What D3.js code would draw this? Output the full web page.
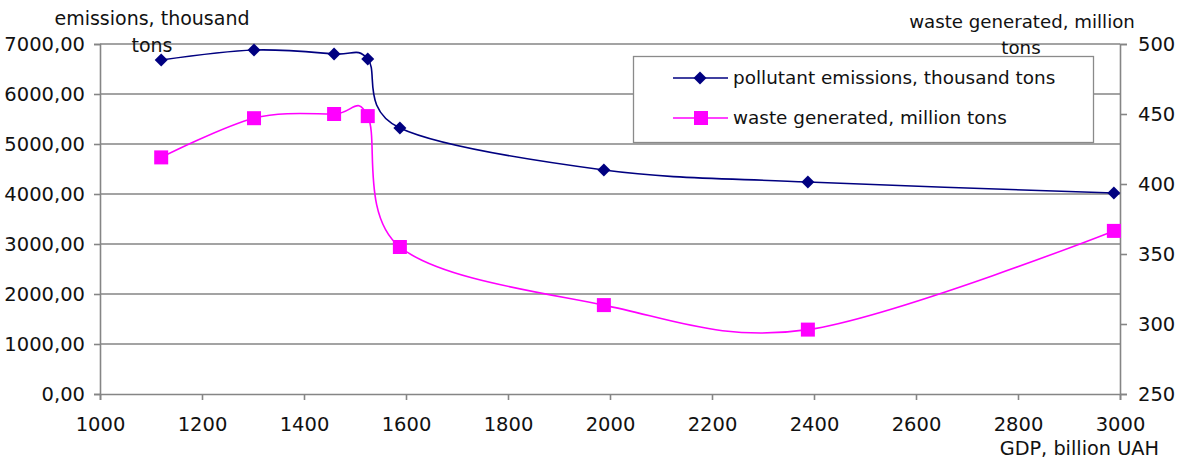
<!DOCTYPE html>
<html><head><meta charset="utf-8">
<script src="https://cdn.jsdelivr.net/npm/d3@7"></script>
<style>body{margin:0;background:#fff}svg{display:block}text{font-family:"DejaVu Sans",sans-serif;fill:#111}</style>
</head><body><svg id="c" width="1183" height="460"></svg>
<script>
const gdp = [1120, 1302, 1459, 1525, 1588, 1988, 2388, 2988];
const emissions = [6680, 6880, 6800, 6700, 5320, 4480, 4240, 4020];
const waste = [419, 447, 450, 448.5, 355, 313.5, 296, 366.5];
const xTicks = [1000,1200,1400,1600,1800,2000,2200,2400,2600,2800,3000];
const yLeftTicks = [0,1000,2000,3000,4000,5000,6000,7000];
const yRightTicks = [250,300,350,400,450,500];
const seriesNames = ["pollutant emissions, thousand tons","waste generated, million tons"];

const svg = d3.select("#c");
const L=100, R=1120, T=44, B=394;
const x = d3.scaleLinear().domain([1000,3000]).range([L,R]);
const yL = d3.scaleLinear().domain([0,7000]).range([B,T]);
const yR = d3.scaleLinear().domain([250,500]).range([B,T]);
const grid="#858585";

// gridlines
svg.append("g").selectAll("line").data(yLeftTicks.filter(d=>d>0)).join("line")
  .attr("x1",L).attr("x2",R).attr("y1",d=>yL(d)).attr("y2",d=>yL(d))
  .attr("stroke",grid).attr("stroke-width",1.3);

const fmt = d=>d3.format(".2f")(d).replace(".",",");
const gl = svg.append("g").attr("transform",`translate(${L},0)`)
  .call(d3.axisLeft(yL).tickValues(yLeftTicks).tickFormat(fmt).tickSize(6).tickPadding(9));
const gr = svg.append("g").attr("transform",`translate(${R},0)`)
  .call(d3.axisRight(yR).tickValues(yRightTicks).tickFormat(d3.format("d")).tickSize(7).tickPadding(11));
const gx = svg.append("g").attr("transform",`translate(0,${B})`)
  .call(d3.axisBottom(x).tickValues(xTicks).tickFormat(d3.format("d")).tickSize(6).tickPadding(17));
[gl,gr,gx].forEach(g=>{
  g.selectAll("path,line").attr("stroke",grid).attr("stroke-width",1.6);
  g.selectAll("text").attr("font-size",19.5).attr("font-family","DejaVu Sans").attr("fill","#111");
});

const line = (ys)=>d3.line().x((d,i)=>x(gdp[i])).y(d=>ys(d)).curve(d3.curveCatmullRom.alpha(0));
svg.append("path").datum(waste).attr("d",line(yR)).attr("fill","none").attr("stroke","#ff00ff").attr("stroke-width",1.6);
svg.append("path").datum(emissions).attr("d",line(yL)).attr("fill","none").attr("stroke","#000080").attr("stroke-width",1.6);

svg.append("g").selectAll("rect").data(waste).join("rect")
  .attr("x",(d,i)=>x(gdp[i])-7).attr("y",d=>yR(d)-7).attr("width",14).attr("height",14).attr("fill","#ff00ff");
svg.append("g").selectAll("path").data(emissions).join("path")
  .attr("transform",(d,i)=>`translate(${x(gdp[i])},${yL(d)}) rotate(45)`)
  .attr("d",d3.symbol().type(d3.symbolSquare).size(84)).attr("fill","#000080");

// axis titles
const t = (s,xx,yy,anchor,fs)=>svg.append("text").text(s).attr("x",xx).attr("y",yy).attr("font-size",fs).attr("text-anchor",anchor||"start");
t("emissions, thousand",152,25,"middle",19);
t("tons",152,52,"middle",19);
t("waste generated, million",1022,28,"middle",18.2);
t("tons",1021,54,"middle",18.2);
t("GDP, billion UAH",1159,455,"end",19.3);

// legend
const lg = svg.append("g");
lg.append("rect").attr("x",633.5).attr("y",56.5).attr("width",460).attr("height",86).attr("fill","#fff").attr("stroke","#8a8a8a").attr("stroke-width",1.3);
[0,1].forEach(i=>{
  const yy = 78 + i*40;
  const col = i? "#ff00ff":"#000080";
  lg.append("line").attr("x1",673).attr("x2",728).attr("y1",yy).attr("y2",yy).attr("stroke",col).attr("stroke-width",1.6);
  if(i) lg.append("rect").attr("x",694).attr("y",yy-7).attr("width",14).attr("height",14).attr("fill",col);
  else lg.append("path").attr("transform",`translate(700,${yy}) rotate(45)`).attr("d",d3.symbol().type(d3.symbolSquare).size(84)).attr("fill",col);
  lg.append("text").text(seriesNames[i]).attr("x",733).attr("y",yy+6).attr("font-size",18.4);
});
</script></body></html>
